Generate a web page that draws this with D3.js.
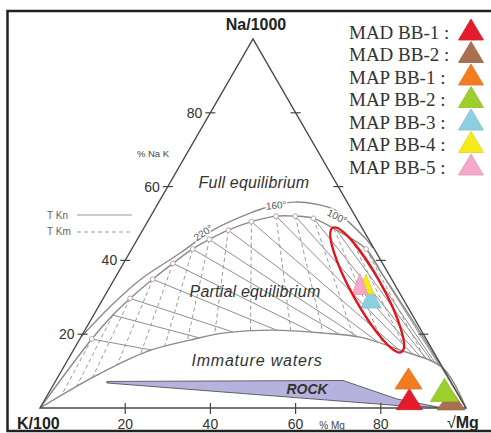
<!DOCTYPE html>
<html>
<head>
<meta charset="utf-8">
<script src="https://cdn.jsdelivr.net/npm/d3@7"></script>
<style>
  html, body { margin: 0; padding: 0; background: #fff; }
  svg { display: block; font-family: "Liberation Sans", Arial, sans-serif; }
</style>
</head>
<body>
<div id="chart"></div>
<script>
// ---- data (ternary %, Na/1000 - K/100 - sqrt Mg) ----
var sampleNames = ["MAD BB-1", "MAD BB-2", "MAP BB-1", "MAP BB-2", "MAP BB-3", "MAP BB-4", "MAP BB-5"];
var sampleNa = [2.4, 2.2, 8.0, 4.9, 29.8, 33.6, 33.6];
var sampleK  = [12.1, 2.4, 9.5, 2.6, 7.4, 6.7, 8.1];
var sampleMg = [85.5, 95.4, 82.5, 92.5, 62.8, 59.7, 58.3];

var axisTicks = [20, 40, 60, 80];

// curves as [%Mg, %Na]
var fullEqOuter = [[0, 19.3], [2.7, 27.4], [6.1, 34.7], [11.9, 42.0], [16.5, 48.2], [22.9, 52.8],
  [27.7, 55.0], [32.0, 55.8], [36.9, 55.3], [42.4, 53.7], [47.7, 50.1], [54, 45.5], [56.5, 43.3]];
var fullEqInner = [[0, 0], [2.8, 18.7], [4.5, 25.2], [6.3, 29.7], [9.0, 34.9], [11.6, 39.2], [14.3, 43.1],
  [16.9, 45.7], [20.1, 48.2], [24.4, 50.5], [29.4, 52.0], [33.9, 52.0], [38.5, 51.4], [45.5, 48.2],
  [55, 43.1], [62, 36.5], [70, 29], [79, 20.5], [89, 10.8], [100, 0]];
var immatureLine = [[0, 0], [8.9, 8.9], [17.4, 15.3], [26.0, 18.4], [32.8, 20.3], [44.1, 21.1],
  [56.3, 20.3], [65.5, 19.2], [76.7, 15.7], [89.2, 10.8], [100, 0]];
var rockArea = [[12.1, 7.2], [67.4, 7.45], [82.6, 2.44], [93.8, 0.14], [83.5, 0.68], [12.3, 6.78]];
var tempMarks = [[2.8, 18.7], [6.3, 29.7], [9.0, 34.9], [11.6, 39.2], [14.3, 43.1], [16.9, 45.7],
  [20.1, 48.2], [24.4, 50.5], [29.4, 52.0], [33.9, 52.0], [38.5, 51.4], [55, 43.1]];
var tempLabels = ["220°", "160°", "100°"];
var tempLabelPos = [[14.6, 47.5], [28.0, 54.9], [43.8, 51.9]];

// Na/K ratios (T Kn lines) and K/sqrtMg ratios (T Km lines)
var tknRatios = [0.238, 0.358, 0.464, 0.622, 0.797, 1.01, 1.22, 1.52, 2.01, 2.8, 3.69, 5.09, 7.65, 11, 22.7];
var tkmRatios = [28, 15.6, 10.2, 6.2, 4.24, 2.98, 2.21, 1.58, 1.03, 0.633, 0.416, 0.262, 0.15, 0.08, 0.035];

var circled = [60.8, 32.0]; // highlighted cluster

// ---- styles ----
var sampleColors = ["#e31b2a", "#a8704e", "#f47b20", "#9ccf2c", "#8ccfe0", "#f6ea1a", "#f5a8c8"];
var markerSize = [[26, 21], [28, 20], [27, 21], [28, 23], [20, 20], [16, 20], [16, 21]];

var width = 491, height = 433;

var svg = d3.select("#chart").append("svg")
  .attr("width", width).attr("height", height);

var xS = d3.scaleLinear().domain([0, 100]).range([40, 466]);
var yS = d3.scaleLinear().domain([0, 100]).range([408, 39]);
function pt(mg, na) { return [xS(mg + na / 2), yS(na)]; }

var cornerK = pt(0, 0), cornerMg = pt(100, 0), apexNa = pt(0, 100);

var smooth = d3.line().curve(d3.curveCatmullRom.alpha(0.5));

// rock field
svg.append("path")
  .attr("d", d3.line()(rockArea.map(function(d) { return pt(d[0], d[1]); })) + "Z")
  .attr("fill", "#b5b2de").attr("stroke", "#555").attr("stroke-width", 0.9);

// curves
function drawCurve(data) {
  return svg.append("path")
    .attr("d", smooth(data.map(function(d) { return pt(d[0], d[1]); })))
    .attr("fill", "none").attr("stroke", "#8a8a8a").attr("stroke-width", 1.4);
}
var outerPath = drawCurve(fullEqOuter);
var innerPath = drawCurve(fullEqInner);
var lowerPath = drawCurve(immatureLine);

function samplePath(node) {
  var L = node.getTotalLength(), pts = [];
  for (var s = 0; s <= L; s += 1.5) { var p = node.getPointAtLength(s); pts.push([p.x, p.y]); }
  var e = node.getPointAtLength(L); pts.push([e.x, e.y]);
  return pts;
}
function segT(p1, p2, p3, p4) {
  var d = (p2[0] - p1[0]) * (p4[1] - p3[1]) - (p2[1] - p1[1]) * (p4[0] - p3[0]);
  if (Math.abs(d) < 1e-9) return null;
  var t = ((p3[0] - p1[0]) * (p4[1] - p3[1]) - (p3[1] - p1[1]) * (p4[0] - p3[0])) / d;
  var u = ((p3[0] - p1[0]) * (p2[1] - p1[1]) - (p3[1] - p1[1]) * (p2[0] - p1[0])) / d;
  return (t >= 0 && t <= 1 && u >= 0 && u <= 1) ? t : null;
}
function hitsOf(a, b, poly) {
  var ts = [];
  for (var i = 0; i < poly.length - 1; i++) {
    var t = segT(a, b, poly[i], poly[i + 1]);
    if (t !== null && t > 0.01) ts.push(t);
  }
  return ts;
}
function lerp(a, b, t) { return [a[0] + (b[0] - a[0]) * t, a[1] + (b[1] - a[1]) * t]; }

var innerPts = samplePath(innerPath.node());
var lowerPts = samplePath(lowerPath.node());

var grid = svg.insert("g", "path");

// T Kn lines: constant Na/K, through sqrt Mg corner
tknRatios.forEach(function(r) {
  var b = pt(0, 100 * r / (1 + r));
  var ti = hitsOf(cornerMg, b, innerPts), tl = hitsOf(cornerMg, b, lowerPts);
  if (!ti.length || !tl.length) return;
  var p1 = lerp(cornerMg, b, d3.max(ti)), p2 = lerp(cornerMg, b, d3.max(tl));
  grid.append("line").attr("x1", p1[0]).attr("y1", p1[1]).attr("x2", p2[0]).attr("y2", p2[1])
    .attr("stroke", "#8f8f8f").attr("stroke-width", 1);
});

// T Km lines: constant K/sqrtMg, through Na apex
tkmRatios.forEach(function(q) {
  var b = pt(100 / (1 + q), 0);
  var ti = hitsOf(apexNa, b, innerPts), tl = hitsOf(apexNa, b, lowerPts);
  if (!ti.length || !tl.length) return;
  var p1 = lerp(apexNa, b, d3.min(ti)), p2 = lerp(apexNa, b, d3.min(tl));
  grid.append("line").attr("x1", p1[0]).attr("y1", p1[1]).attr("x2", p2[0]).attr("y2", p2[1])
    .attr("stroke", "#9a9a9a").attr("stroke-width", 1).attr("stroke-dasharray", "4,3");
});

// temperature marks
svg.selectAll("circle.tm").data(tempMarks).enter().append("circle")
  .attr("class", "tm")
  .attr("cx", function(d) { return pt(d[0], d[1])[0]; })
  .attr("cy", function(d) { return pt(d[0], d[1])[1]; })
  .attr("r", 2.4).attr("fill", "#fff").attr("stroke", "#c9a0a0").attr("stroke-width", 1);

svg.selectAll("text.tl").data(tempLabels).enter().append("text")
  .attr("class", "tl")
  .attr("transform", function(d, i) {
    var p = pt(tempLabelPos[i][0], tempLabelPos[i][1]);
    return "translate(" + p[0] + "," + p[1] + ") rotate(" + [-34, -5, 28][i] + ")";
  })
  .attr("text-anchor", "middle").attr("dy", "0.35em")
  .attr("font-size", 10).attr("fill", "#555")
  .attr("stroke", "#fff").attr("stroke-width", 3).attr("paint-order", "stroke")
  .text(function(d) { return d; });

// triangle frame
svg.append("path")
  .attr("d", d3.line()([cornerK, apexNa, cornerMg]) + "Z")
  .attr("fill", "none").attr("stroke", "#4a4a4a").attr("stroke-width", 1.4);

// ticks
axisTicks.forEach(function(v) {
  var pb = pt(v, 0), pl = pt(0, v), pr = pt(100 - v, v);
  svg.append("line").attr("x1", pb[0]).attr("x2", pb[0]).attr("y1", pb[1] - 5).attr("y2", pb[1] + 6)
    .attr("stroke", "#444").attr("stroke-width", 1.2);
  [pl, pr].forEach(function(p) {
    svg.append("line").attr("x1", p[0] - 5).attr("x2", p[0] + 5).attr("y1", p[1]).attr("y2", p[1])
      .attr("stroke", "#444").attr("stroke-width", 1.2);
  });
  svg.append("text").attr("x", pl[0] - 8).attr("y", pl[1] + 5).attr("text-anchor", "end")
    .attr("font-size", 14).attr("fill", "#333").text(v);
  svg.append("text").attr("x", pb[0]).attr("y", 428.5).attr("text-anchor", "middle")
    .attr("font-size", 14).attr("fill", "#333").text(v);
});

// axis names
svg.append("text").attr("x", 256).attr("y", 30).attr("text-anchor", "middle")
  .attr("font-size", 16).attr("font-weight", "bold").attr("fill", "#222").text("Na/1000");
svg.append("text").attr("x", 17).attr("y", 428.5)
  .attr("font-size", 16).attr("font-weight", "bold").attr("fill", "#222").text("K/100");
var sq = svg.append("text").attr("x", 447).attr("y", 427.5).attr("font-size", 16).attr("fill", "#222");
sq.append("tspan").text("√");
sq.append("tspan").attr("font-weight", "bold").text("Mg");
svg.append("text").attr("x", 153).attr("y", 157).attr("text-anchor", "middle")
  .attr("font-size", 9.5).attr("fill", "#444").text("% Na K");
svg.append("text").attr("x", 332).attr("y", 428.5).attr("text-anchor", "middle")
  .attr("font-size", 10).attr("fill", "#444").text("% Mg");

// region labels
function region(txt, x, y, size, weight, ls) {
  svg.append("text").attr("x", x).attr("y", y).attr("text-anchor", "middle")
    .attr("font-size", size).attr("font-style", "italic").attr("font-weight", weight)
    .attr("letter-spacing", ls).attr("fill", "#333").text(txt);
}
region("Full equilibrium", 254, 188, 16, "normal", 0.2);
region("Partial  equilibrium", 255, 297, 16, "normal", 0.2);
region("Immature waters", 257, 366, 16, "normal", 0.8);
region("ROCK", 307, 394, 14, "bold", 0);

// T Kn / T Km key
svg.append("text").attr("x", 47).attr("y", 219).attr("font-size", 10).attr("fill", "#666").text("T Kn");
svg.append("text").attr("x", 47).attr("y", 235).attr("font-size", 10).attr("fill", "#666").text("T Km");
svg.append("line").attr("x1", 77).attr("x2", 132).attr("y1", 215).attr("y2", 215)
  .attr("stroke", "#999").attr("stroke-width", 1);
svg.append("line").attr("x1", 77).attr("x2", 132).attr("y1", 232).attr("y2", 232)
  .attr("stroke", "#999").attr("stroke-width", 1).attr("stroke-dasharray", "4,3");

// samples
function tri(cx, cy, w, h) {
  return "M" + cx + "," + (cy - h / 2) + "L" + (cx + w / 2) + "," + (cy + h / 2) +
    "L" + (cx - w / 2) + "," + (cy + h / 2) + "Z";
}
svg.selectAll("path.sample").data(sampleNames).enter().append("path")
  .attr("class", "sample")
  .attr("d", function(d, i) {
    var s = sampleNa[i] + sampleK[i] + sampleMg[i];
    var p = pt(100 * sampleMg[i] / s, 100 * sampleNa[i] / s);
    return tri(p[0], p[1], markerSize[i][0], markerSize[i][1]);
  })
  .attr("fill", function(d, i) { return sampleColors[i]; })
  .attr("stroke", function(d, i) { return d3.color(sampleColors[i]).darker(0.25); })
  .attr("stroke-width", 0.8);

// highlight ellipse
var ce = pt(circled[0], circled[1]);
svg.append("ellipse").attr("cx", 0).attr("cy", 0).attr("rx", 71).attr("ry", 15)
  .attr("transform", "translate(" + ce[0] + "," + ce[1] + ") rotate(61)")
  .attr("fill", "none").attr("stroke", "#e3141c").attr("stroke-width", 2.4);

// frame
svg.append("rect").attr("x", 7.5).attr("y", 11).attr("width", 520).attr("height", 420)
  .attr("fill", "none").attr("stroke", "#222").attr("stroke-width", 2.5);

// legend
var leg = svg.append("g");
sampleNames.forEach(function(name, i) {
  var y = 38.5 + i * 22.5;
  leg.append("text").attr("x", 349).attr("y", y)
    .attr("font-family", "'Liberation Serif', 'Times New Roman', serif")
    .attr("font-size", 19).attr("fill", "#333").text(name + " :");
  leg.append("path").attr("d", tri(471, y - 9, 25, 21))
    .attr("fill", sampleColors[i])
    .attr("stroke", d3.color(sampleColors[i]).darker(0.25)).attr("stroke-width", 0.8);
});
</script>
</body>
</html>
